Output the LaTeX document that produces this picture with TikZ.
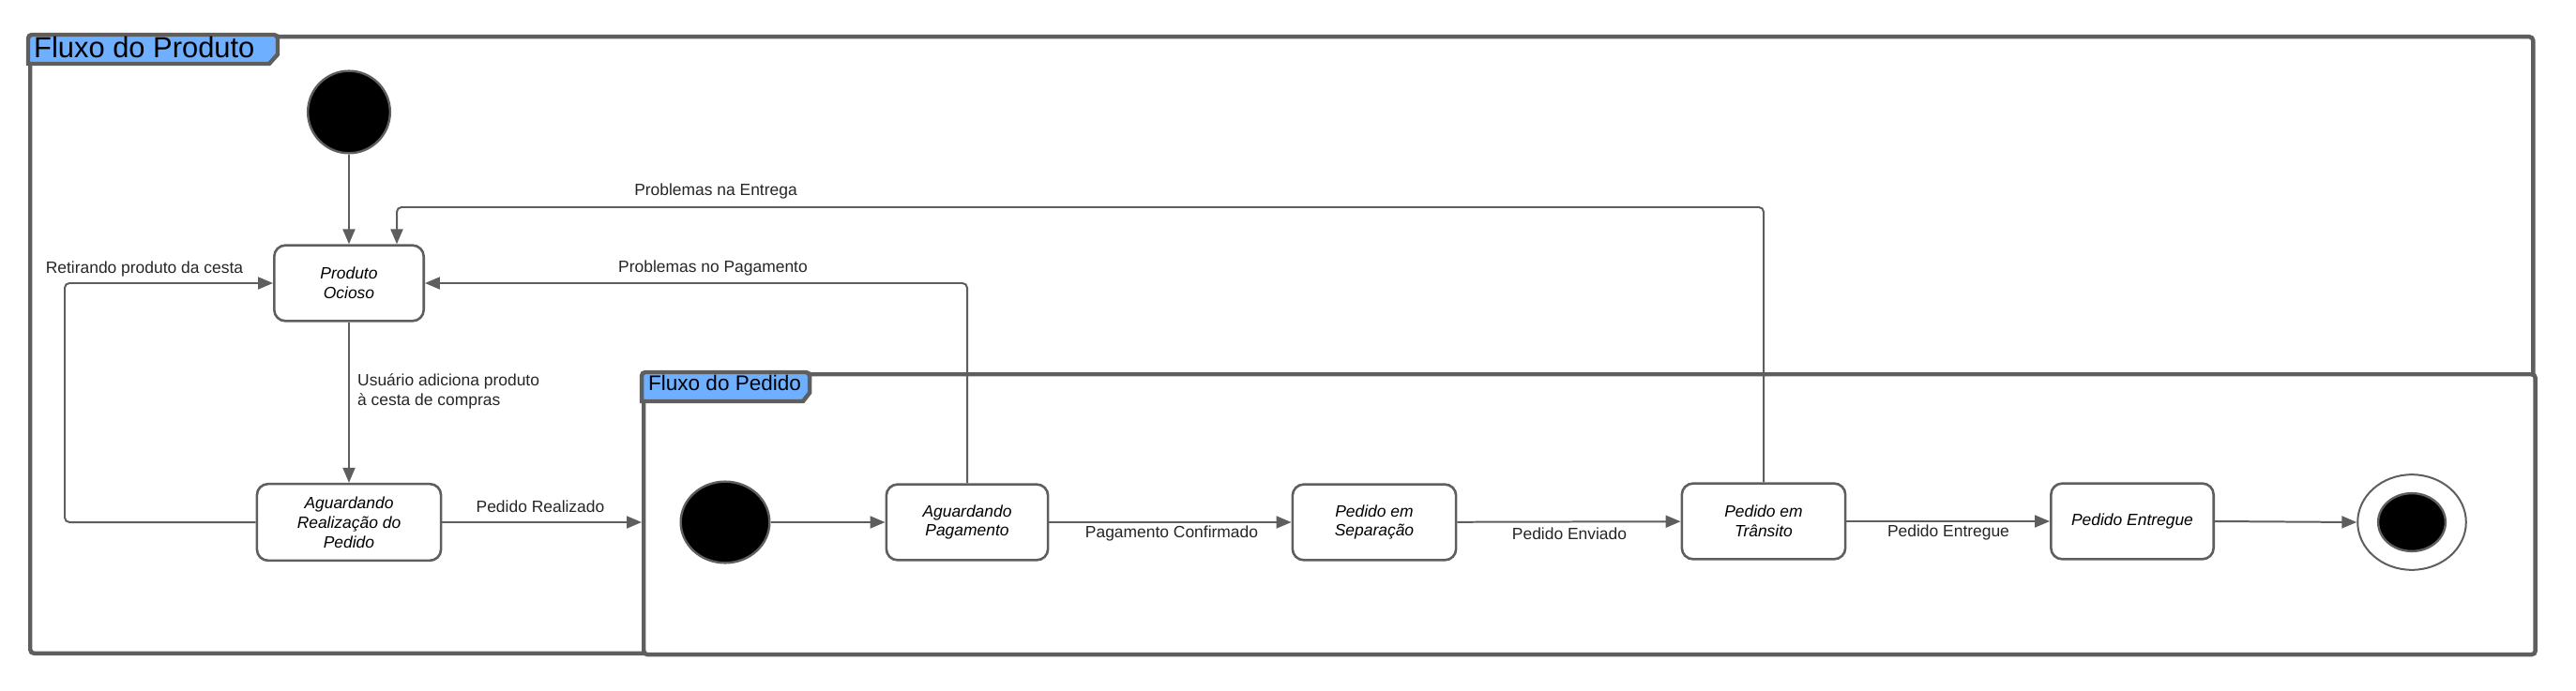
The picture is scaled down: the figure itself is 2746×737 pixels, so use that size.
\documentclass[tikz,border=0pt]{standalone}
\usepackage{fontspec}
\setmainfont{Liberation Sans}
\usetikzlibrary{arrows.meta,shapes.geometric}
\definecolor{ln}{HTML}{5E5E5E}
\definecolor{tabblue}{HTML}{6EB0FF}
\begin{document}
\begin{tikzpicture}[x=1bp,y=-1bp,
  every node/.style={font=\fontsize{17.5}{21}\selectfont, inner sep=0pt},
  state/.style={draw=ln, line width=2.6, rounded corners=12, fill=white, align=center,
    font=\fontsize{17.5}{21}\selectfont\itshape, minimum height=81},
  conn/.style={draw=ln, line width=2, -{Triangle[length=16,width=13]}, rounded corners=5},
  lbl/.style={text=black!85, align=left},
  frameline/.style={draw=ln, line width=4.5, rounded corners=4}]
\useasboundingbox (0,0) rectangle (2746,737);
% outer frame
\node[frameline, minimum width=2678, minimum height=660, anchor=north west] (fprod) at (30,37) {};
% inner frame
\node[frameline, minimum width=2024, minimum height=300, anchor=north west, fill=white] (fped) at (684,397) {};
% tabs
\filldraw[fill=tabblue, draw=ln, line width=4.5, rounded corners=4]
  (30,68) -- (30,37) -- (296,37) [sharp corners] -- (296,58) -- (287,68) -- cycle;
\node[anchor=base west, font=\fontsize{31}{34}\selectfont] (tprod) at (36,62) {Fluxo do Produto};
\filldraw[fill=tabblue, draw=ln, line width=4.5, rounded corners=4]
  (684,428) -- (684,397) -- (863,397) [sharp corners] -- (863,419) -- (856,428) -- cycle;
\node[anchor=base west, font=\fontsize{22.6}{25}\selectfont] (tped) at (691,416) {Fluxo do Pedido};
% states
\node[circle, draw=ln, line width=2.4, fill=black, minimum size=88] (s1) at (372,119.5) {};
\node[state, minimum width=160] (po) at (372,302) {Produto\\Ocioso};
\node[state, minimum width=197, minimum height=82] (ar) at (372,557) {Aguardando\\Realização do\\Pedido};
\node[ellipse, draw=ln, line width=2.4, fill=black, minimum width=95, minimum height=87] (s2) at (773,557) {};
\node[state, minimum width=173] (ap) at (1031,557) {Aguardando\\Pagamento};
\node[state, minimum width=175] (ps) at (1465,557) {Pedido em\\Separação};
\node[state, minimum width=175] (pt) at (1880,556) {Pedido em\\Trânsito};
\node[state, minimum width=174] (pe) at (2273,556) {Pedido Entregue};
\node[ellipse, draw=ln, line width=2, fill=white, minimum width=116, minimum height=102] (fin) at (2571,557) {};
\node[ellipse, draw=ln, line width=2.4, fill=black, minimum width=72, minimum height=62] (fin2) at (2571,557) {};
% helper coordinates
\coordinate (lb) at (69,302);
\coordinate (tp) at (423,221);
% connectors
\draw[conn] (s1) -- (po);
\draw[conn] (po) -- (ar);
\draw[conn] (ar.west) -- (ar.west -| lb) |- (po.west);
\draw[conn] (ap.north) |- (po.east);
\draw[conn] (pt.north) |- (tp) -- (tp |- po.north);
\draw[conn] (ar.east) -- (ar.east -| fped.west);
\draw[conn] (s2) -- (ap);
\draw[conn] (ap) -- (ps);
\draw[conn] (ps) -- (pt);
\draw[conn] (pt.east) -- (pe.west);
\draw[conn] (pe.east) -- (fin.west);
% labels
\node[lbl] (l1) at (763,204) {Problemas na Entrega};
\node[lbl] (l2) at (760,286) {Problemas no Pagamento};
\node[lbl] (l3) at (154,287) {Retirando produto da cesta};
\node[lbl, anchor=west] (l4) at (381,417) {Usuário adiciona produto\\à cesta de compras};
\node[lbl] (l5) at (576,540) {Pedido Realizado};
\node[lbl] (l6) at (1249,569) {Pagamento Confirmado};
\node[lbl] (l7) at (1673,569) {Pedido Enviado};
\node[lbl] (l8) at (2077,568) {Pedido Entregue};
\end{tikzpicture}
\end{document}
